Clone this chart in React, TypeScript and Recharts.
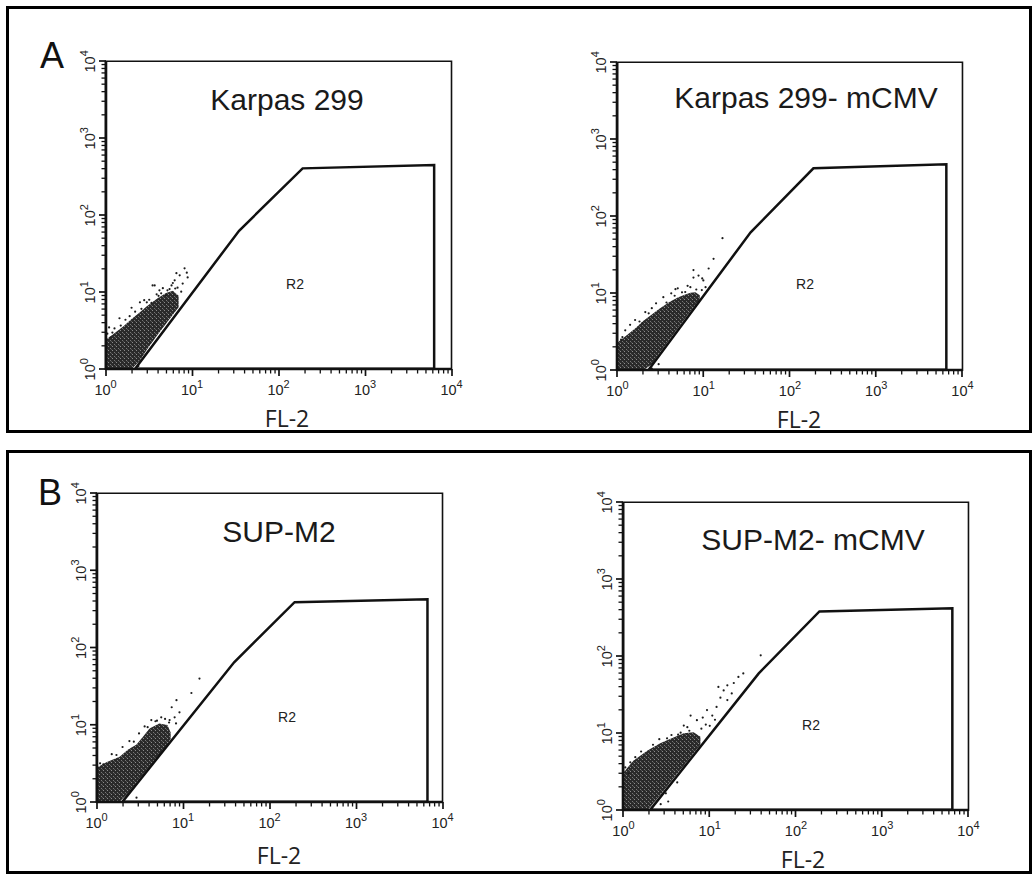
import React from 'react';
import { ComposedChart, XAxis, YAxis, Area, Scatter, ReferenceArea } from 'recharts';

// log axis ticks (decades + minor 2..9)
const DECADES = [1, 10, 100, 1000, 10000];
const MINOR_STEPS = [2, 3, 4, 5, 6, 7, 8, 9];
const LOG_TICKS = [...DECADES, ...DECADES.slice(0, -1).flatMap((d) => MINOR_STEPS.map((m) => d * m))].sort((a, b) => a - b);
const AXIS_MIN = 1;
const AXIS_MAX = 10000;

const TITLES = ['Karpas 299', 'Karpas 299- mCMV', 'SUP-M2', 'SUP-M2- mCMV'];
const GATE_NAME = 'R2';
const X_LABEL = 'FL-2';
const PANEL_LETTERS = ['A', 'B'];

// Karpas 299
const A1_CLOUD_X = [1, 1.3, 1.6, 2, 2.5, 3, 4, 5, 6, 7];
const A1_CLOUD_LOW = [1, 1, 1, 1, 1.3, 1.8, 2.8, 3.9, 5.1, 6.4];
const A1_CLOUD_HIGH = [2.4, 3.0, 3.6, 4.5, 5.5, 6.6, 8.4, 9.8, 10.5, 9];
const A1_DOTS = [
  [8.7, 18], [7.2, 16.6], [6.3, 14.3], [7.8, 13], [5.8, 12.3], [4.2, 10.6], [3.5, 12.3], [3.7, 12.3],
  [2.8, 7.9], [2.5, 7.4], [1.45, 4.6], [1.1, 3.5], [5.5, 11], [5, 9.1], [3.9, 9.4], [8.2, 20.5],
  [6.6, 17.7], [8.9, 15.6], [4.4, 9.7], [3.0, 7.4], [1.27, 3.4], [1.2, 3.0], [6.8, 11.5], [7.5, 10.2],
  [2.2, 5.6], [3.2, 8], [4.6, 11.3], [6, 13.2], [2.0, 6.3], [1.05, 2.9], [1.7, 4.4], [2.4, 1.1],
  [1.15, 2.6], [1.5, 3.7], [1.9, 4.9], [2.6, 6.1], [3.4, 7.3], [4.1, 9], [5.2, 10.6], [6.4, 11.2],
];
const A1_GATE = [[2.2, 1.02], [35, 63], [190, 407], [6300, 450], [6300, 1.02], [2.2, 1.02]];

// Karpas 299- mCMV
const A2_CLOUD_X = [1, 1.3, 1.6, 2, 2.5, 3, 4, 5, 6, 7, 8, 9];
const A2_CLOUD_LOW = [1, 1, 1, 1, 1.2, 1.6, 2.5, 3.5, 4.6, 5.8, 7, 8.3];
const A2_CLOUD_HIGH = [2.3, 2.9, 3.5, 4.4, 5.3, 6.2, 7.7, 8.8, 9.6, 10.2, 10.3, 9.4];
const A2_DOTS = [
  [16.5, 52], [13, 28], [11.4, 21], [7.6, 20], [8.7, 17], [9.6, 15.6], [4.7, 11.3], [2.1, 5.7],
  [1.14, 2.7], [9.9, 14.7], [7.6, 16], [5, 11.6], [3.4, 8.9], [1.23, 3.3], [1.95, 4.1], [10.5, 12],
  [6.5, 12.5], [4.2, 10], [2.8, 7.4], [1.6, 4.5], [3, 1.2], [2.5, 1.05], [7, 12], [9.5, 11],
  [5.6, 10.3], [1.4, 3.9], [2.5, 6.4], [1.1, 2.5], [1.8, 4.3], [2.3, 5.5], [3.7, 7.6], [4.6, 9.3],
  [6.1, 10.4], [8.2, 11.2],
];
const A2_GATE = [[2.3, 1.02], [35, 62], [187, 420], [6500, 475], [6500, 1.02], [2.3, 1.02]];

// SUP-M2
const B1_CLOUD_X = [1, 1.3, 1.85, 2.3, 2.9, 3.5, 4.1, 5.3, 6.6, 7.2];
const B1_CLOUD_LOW = [1, 1, 1.02, 1.3, 1.8, 2.35, 2.9, 4.1, 5.6, 6.6];
const B1_CLOUD_HIGH = [2.8, 3.3, 3.9, 4.8, 5.6, 7.2, 9, 10.5, 10, 8];
const B1_DOTS = [
  [15.5, 40], [12.5, 26], [8.4, 21], [7.4, 17], [9.1, 14.6], [8, 12.6], [7, 11.6], [4.3, 11.6],
  [5.6, 12.6], [2.9, 1.15], [6.2, 12], [3.6, 9.6], [2.4, 6.2], [1.5, 4.2], [1.1, 3.2], [4.8, 11.2],
  [6.9, 10.8], [8.3, 10.5], [2.0, 5.2], [3.1, 7.8], [1.2, 3.1], [1.7, 4.1], [2.7, 6.1], [3.9, 9.4],
  [5.0, 11.4],
];
const B1_GATE = [[2.0, 1.02], [39, 65], [195, 390], [6700, 425], [6700, 1.02], [2.0, 1.02]];

// SUP-M2- mCMV
const B2_CLOUD_X = [1, 1.3, 1.9, 2.7, 3.8, 5, 6.5, 7.8];
const B2_CLOUD_LOW = [1, 1, 1, 1.6, 2.6, 3.8, 5.5, 7.1];
const B2_CLOUD_HIGH = [3.1, 4.4, 6, 7.5, 8.8, 10, 10.3, 9];
const B2_DOTS = [
  [39, 103], [24.5, 60], [21.5, 54], [19, 45], [16, 42], [14.5, 36], [12.6, 40], [13.3, 29],
  [16, 27], [9.3, 20], [10.7, 17], [8.3, 16], [7.1, 14.8], [6, 17], [5.5, 12], [5, 12.6],
  [4.6, 10.2], [1.37, 4.9], [1.15, 3], [3.1, 1.66], [2.7, 1.2], [3.3, 1.3], [11.5, 15], [9, 13],
  [8, 11.5], [10, 12.5], [12, 22], [18, 33], [3.6, 9.5], [2.6, 8.4], [1.6, 5.8], [1.05, 3.6],
  [4.2, 2.3], [1.2, 4.2], [2.2, 7.1], [3.2, 8.6], [4.3, 9.6], [5.8, 10.8],
];
const B2_GATE = [[2.05, 1.02], [37, 60], [187, 382], [6500, 420], [6500, 1.02], [2.05, 1.02]];

const INK = '#111';
const SANS = '"Liberation Sans", Arial, sans-serif';

// padding (in decades) around the 1..10^4 frame
const PAD_LO = 0.11;
const PAD_HI = 0.03;

const isDecade = (v: number) => Math.abs(Math.log10(v) - Math.round(Math.log10(v))) < 1e-6;

function XTickLabel(props: any) {
  const x = Number(props.x);
  const y = Number(props.y) + Number(props.shift);
  const v = props.payload.value;
  if (!isDecade(v)) return <g />;
  return (
    <text x={x} y={y + 26} textAnchor="middle" fontSize={14.5} fontFamily={SANS} fill="#222">
      10<tspan dy={-7} fontSize={11}>{Math.round(Math.log10(v))}</tspan>
    </text>
  );
}

function YTickLabel(props: any) {
  const x = Number(props.x) + Number(props.shift) - 11;
  const y = Number(props.y);
  const v = props.payload.value;
  if (!isDecade(v)) return <g />;
  return (
    <text x={x} y={y} transform={`rotate(-90, ${x}, ${y})`} textAnchor="middle" fontSize={14.5} fontFamily={SANS} fill="#222">
      10<tspan dy={-7} fontSize={11}>{Math.round(Math.log10(v))}</tspan>
    </text>
  );
}

const Speck = ({ cx, cy }: any) => <circle cx={cx} cy={cy} r={1.1} fill="#1c1c1c" />;
const NoMark = () => <g />;

interface Box { left: number; top: number; w: number; h: number }

const AXIS_W = 34;
const AXIS_H = 36;
const DOMAIN = [AXIS_MIN * Math.pow(10, -PAD_LO), AXIS_MAX * Math.pow(10, PAD_HI)];

function FlowPlot({ id, box, cloudX, cloudLow, cloudHigh, dots, gate }: {
  id: string; box: Box; cloudX: number[]; cloudLow: number[]; cloudHigh: number[]; dots: number[][]; gate: number[][];
}) {
  const decX = box.w / 4;
  const decY = box.h / 4;
  const padL = decX * PAD_LO;
  const padR = decX * PAD_HI;
  const padB = decY * PAD_LO;
  const padT = decY * PAD_HI;
  const plotW = box.w + padL + padR;
  const plotH = box.h + padT + padB;
  const m = { top: 10, right: 20, bottom: 10, left: 10 };
  const cloud = cloudX.map((x, i) => ({ x, y: [cloudLow[i], cloudHigh[i]] }));
  const dotData = dots.map(([x, y]) => ({ x, y }));
  const gateData = gate.map(([x, y]) => ({ x, y }));
  return (
    <div style={{ position: 'absolute', left: box.left - padL - AXIS_W - m.left, top: box.top - padT - m.top }}>
      <ComposedChart width={plotW + AXIS_W + m.left + m.right} height={plotH + AXIS_H + m.top + m.bottom} margin={m}>
        <defs>
          <pattern id={`speck-${id}`} width={4} height={4} patternUnits="userSpaceOnUse">
            <rect width={4} height={4} fill="#2a2a2a" />
            <rect x={0} y={1} width={1} height={1} fill="#8c8c8c" />
            <rect x={2} y={3} width={1} height={1} fill="#777" />
            <rect x={3} y={0} width={1} height={1} fill="#555" />
          </pattern>
        </defs>
        <XAxis
          dataKey="x" type="number" scale="log" domain={DOMAIN} allowDataOverflow
          ticks={LOG_TICKS} interval={0} tickLine={false} tickSize={0} tickMargin={0} height={AXIS_H}
          axisLine={false} tick={(p: any) => <XTickLabel {...p} shift={-padB} />}
        />
        <YAxis
          dataKey="y" type="number" scale="log" domain={DOMAIN} allowDataOverflow
          ticks={LOG_TICKS} interval={0} tickLine={false} tickSize={0} tickMargin={0} width={AXIS_W}
          axisLine={false} tick={(p: any) => <YTickLabel {...p} shift={padL} />}
        />
        <ReferenceArea x1={AXIS_MIN} x2={AXIS_MAX} y1={AXIS_MIN} y2={AXIS_MAX} fill="none" stroke={INK} strokeWidth={1.6} ifOverflow="visible" />
        <Area data={cloud} dataKey="y" type="linear" stroke="none" fill={`url(#speck-${id})`} fillOpacity={1}
          dot={false} activeDot={false} isAnimationActive={false} />
        <Scatter data={dotData} dataKey="y" shape={Speck} isAnimationActive={false} />
        <Scatter data={gateData} dataKey="y" line={{ stroke: INK, strokeWidth: 2.5 }} lineJointType="linear"
          shape={NoMark} isAnimationActive={false} />
      </ComposedChart>
    </div>
  );
}

// axis furniture (bold bottom/left lines and log tick marks), placed with the same log mapping as the plot frame
function AxisMarks({ box }: { box: Box }) {
  const px = (v: number) => box.left + (Math.log10(v) / 4) * box.w;
  const py = (v: number) => box.top + box.h - (Math.log10(v) / 4) * box.h;
  const bottom = py(AXIS_MIN);
  const left = px(AXIS_MIN);
  return (
    <g stroke={INK} fill="none">
      <path d={`M${left - 1},${bottom}L${px(AXIS_MAX)},${bottom}`} strokeWidth={2.6} />
      <path d={`M${left},${bottom + 1}L${left},${py(AXIS_MAX)}`} strokeWidth={2.6} />
      {LOG_TICKS.map((t) => (
        <path key={`x${t}`} d={`M${px(t)},${bottom}L${px(t)},${bottom + (isDecade(t) ? 7 : 4.5)}`} strokeWidth={isDecade(t) ? 1.7 : 1.3} />
      ))}
      {LOG_TICKS.map((t) => (
        <path key={`y${t}`} d={`M${left},${py(t)}L${left - (isDecade(t) ? 7 : 4.5)},${py(t)}`} strokeWidth={isDecade(t) ? 1.7 : 1.3} />
      ))}
    </g>
  );
}

const BOXES: Box[] = [
  { left: 106, top: 61, w: 346, h: 308 },
  { left: 617, top: 62, w: 345, h: 308 },
  { left: 97, top: 493, w: 346, h: 309 },
  { left: 623, top: 502, w: 345, h: 308 },
];
const TITLE_POS = [[287, 110], [806, 108], [279, 542], [813, 550]];
const R2_POS = [[295, 289], [805, 289], [287, 722], [811, 730]];
const XLABEL_POS = [[287, 427], [799, 428], [279, 864], [803, 868]];
const LETTER_POS = [[52, 68], [50, 505]];

export default function App() {
  return (
    <div style={{ position: 'absolute', left: 0, top: 0, width: 1033, height: 875, background: '#fff', overflow: 'hidden' }}>
      <div style={{ position: 'absolute', left: 6, top: 6, width: 1026, height: 427, border: '3.5px solid #000', boxSizing: 'border-box' }} />
      <div style={{ position: 'absolute', left: 6, top: 450, width: 1026, height: 424, border: '3.5px solid #000', boxSizing: 'border-box' }} />
      <FlowPlot id="a1" box={BOXES[0]} cloudX={A1_CLOUD_X} cloudLow={A1_CLOUD_LOW} cloudHigh={A1_CLOUD_HIGH} dots={A1_DOTS} gate={A1_GATE} />
      <FlowPlot id="a2" box={BOXES[1]} cloudX={A2_CLOUD_X} cloudLow={A2_CLOUD_LOW} cloudHigh={A2_CLOUD_HIGH} dots={A2_DOTS} gate={A2_GATE} />
      <FlowPlot id="b1" box={BOXES[2]} cloudX={B1_CLOUD_X} cloudLow={B1_CLOUD_LOW} cloudHigh={B1_CLOUD_HIGH} dots={B1_DOTS} gate={B1_GATE} />
      <FlowPlot id="b2" box={BOXES[3]} cloudX={B2_CLOUD_X} cloudLow={B2_CLOUD_LOW} cloudHigh={B2_CLOUD_HIGH} dots={B2_DOTS} gate={B2_GATE} />
      <svg width={1033} height={875} style={{ position: 'absolute', left: 0, top: 0, pointerEvents: 'none' }}>
        {BOXES.map((b, i) => <AxisMarks key={`ax${i}`} box={b} />)}
        {TITLES.map((t, i) => (
          <text key={t} x={TITLE_POS[i][0]} y={TITLE_POS[i][1]} textAnchor="middle" fontSize={30} fontFamily={SANS} fill="#1a1a1a">{t}</text>
        ))}
        {R2_POS.map(([x, y], i) => (
          <text key={`r${i}`} x={x} y={y} textAnchor="middle" fontSize={14} fontFamily={SANS} fill="#222">{GATE_NAME}</text>
        ))}
        {XLABEL_POS.map(([x, y], i) => (
          <text key={`f${i}`} x={x} y={y} textAnchor="middle" fontSize={23} fontFamily='"Open Sans", sans-serif' fill="#222">{X_LABEL}</text>
        ))}
        {PANEL_LETTERS.map((l, i) => (
          <text key={l} x={LETTER_POS[i][0]} y={LETTER_POS[i][1]} textAnchor="middle" fontSize={36} fontFamily={SANS} fill="#111">{l}</text>
        ))}
      </svg>
    </div>
  );
}
